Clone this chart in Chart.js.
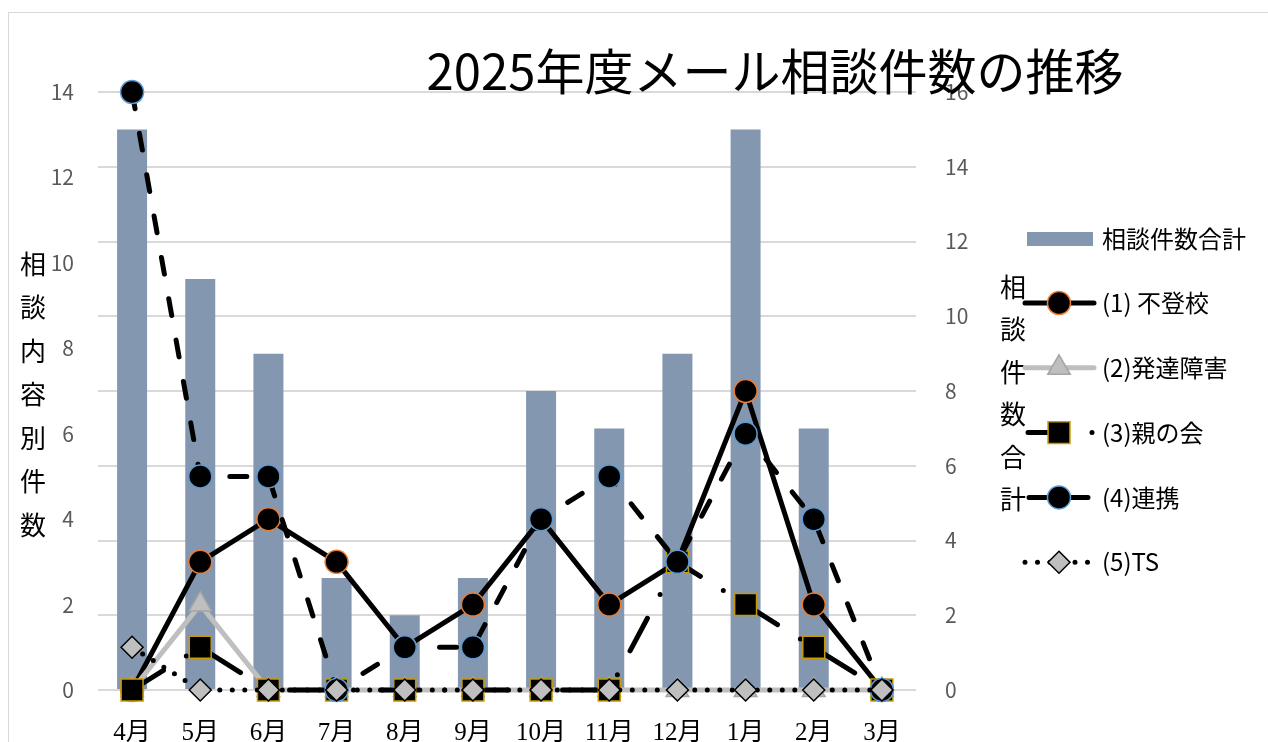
<!DOCTYPE html>
<html lang="ja">
<head>
<meta charset="utf-8">
<title>2025年度メール相談件数の推移</title>
<script src="https://cdn.jsdelivr.net/npm/chart.js@4.4.1/dist/chart.umd.min.js"></script>
<style>
  html, body { margin: 0; padding: 0; background: #fff; }
  #wrap { position: relative; width: 1268px; height: 742px; overflow: hidden; }
  #frame { position: absolute; left: 8px; top: 12px; width: 1300px; height: 800px; border: 1px solid #d9d9d9; }
  canvas { position: absolute; left: 0; top: 0; }
</style>
</head>
<body>
<div id="wrap">
  <div id="frame"></div>
  <canvas id="chart" width="1268" height="742"></canvas>
</div>
<script>
// data
const months = ['4月', '5月', '6月', '7月', '8月', '9月', '10月', '11月', '12月', '1月', '2月', '3月'];
const totalCounts = [15, 11, 9, 3, 2, 3, 8, 7, 9, 15, 7, 0];
const futoukou = [0, 3, 4, 3, 1, 2, 4, 2, 3, 7, 2, 0];
const hattatsu = [0, 2, 0, 0, 0, 0, 0, 0, 0, 0, 0, 0];
const oyanokai = [0, 1, 0, 0, 0, 0, 0, 0, 3, 2, 1, 0];
const renkei = [14, 5, 5, 0, 1, 1, 4, 5, 3, 6, 4, 0];
const ts = [1, 0, 0, 0, 0, 0, 0, 0, 0, 0, 0, 0];

const leftTitle = '相談内容別件数';
const rightTitle = '相談件数合計';
const chartTitle = '2025年度メール相談件数の推移';

const JP = "'Noto Sans CJK JP', 'Noto Sans', sans-serif";
const SERIF = "'Liberation Serif', 'DejaVu Serif', 'Noto Sans CJK JP', serif";

const lineSeries = [
    { label: '(1) 不登校', data: futoukou, color: '#000', width: 5, dash: [], style: 'circle', r: 11.5, fill: '#000', border: '#ed7d31' },
    { label: '(2)発達障害', data: hattatsu, color: '#bfbfbf', width: 5, dash: [], style: 'triangle', r: 13, fill: '#bfbfbf', border: '#a5a5a5' },
    { label: '(3)親の会', data: oyanokai, color: '#000', width: 5, dash: [37, 27, 0, 27], style: 'rect', r: 15.5, fill: '#000', border: '#c99a00' },
    { label: '(4)連携', data: renkei, color: '#000', width: 5, dash: [17, 25], style: 'circle', r: 11.5, fill: '#000', border: '#5b9bd5' },
    { label: '(5)TS', data: ts, color: '#000', width: 5, dash: [0, 12.5], style: 'rectRot', r: 11, fill: '#bfbfbf', border: '#000' }
];

const datasets = [{
    type: 'bar',
    label: '相談件数合計',
    data: totalCounts,
    yAxisID: 'y2',
    backgroundColor: '#8497b0',
    barPercentage: 0.44,
    categoryPercentage: 1,
    order: 10
}];
lineSeries.forEach((s, i) => {
    datasets.push({
        type: 'line',
        label: s.label,
        data: s.data,
        yAxisID: 'y',
        clip: false,
        borderColor: s.color,
        borderWidth: s.width,
        borderDash: s.dash,
        borderCapStyle: 'round',
        borderJoinStyle: 'round',
        tension: 0,
        pointStyle: s.style,
        pointRadius: s.r,
        pointHoverRadius: s.r,
        pointBackgroundColor: s.fill,
        pointBorderColor: s.border,
        pointBorderWidth: 1.5,
        order: 5 - i
    });
});

function marker(ctx, s, x, y) {
    ctx.save();
    ctx.setLineDash([]);
    ctx.fillStyle = s.fill;
    ctx.strokeStyle = s.border;
    ctx.lineWidth = 1.5;
    ctx.beginPath();
    const r = s.r;
    if (s.style === 'circle') {
        ctx.arc(x, y, r, 0, Math.PI * 2);
    } else if (s.style === 'triangle') {
        ctx.moveTo(x, y - r);
        ctx.lineTo(x + r * 0.866, y + r * 0.5);
        ctx.lineTo(x - r * 0.866, y + r * 0.5);
        ctx.closePath();
    } else if (s.style === 'rect') {
        const h = r * Math.SQRT1_2;
        ctx.rect(x - h, y - h, h * 2, h * 2);
    } else {
        ctx.moveTo(x, y - r); ctx.lineTo(x + r, y); ctx.lineTo(x, y + r); ctx.lineTo(x - r, y);
        ctx.closePath();
    }
    ctx.fill();
    ctx.stroke();
    ctx.restore();
}

// title, axis titles and Excel-like legend
const decor = {
    id: 'decor',
    afterDraw(chart) {
        const ctx = chart.ctx;
        ctx.save();
        ctx.fillStyle = '#000';
        ctx.textAlign = 'center';
        ctx.textBaseline = 'alphabetic';
        ctx.font = '49px ' + JP;
        ctx.fillText(chartTitle, 775, 90);

        ctx.font = '26px ' + JP;
        ctx.textBaseline = 'middle';
        [...leftTitle].forEach((c, i) => ctx.fillText(c, 33, 264 + i * 43.5));
        [...rightTitle].forEach((c, i) => ctx.fillText(c, 1013, 287 + i * 42.5));

        // legend
        ctx.textAlign = 'left';
        ctx.font = '24px ' + JP;
        ctx.fillStyle = '#8497b0';
        ctx.fillRect(1027, 232, 66, 14);
        ctx.fillStyle = '#000';
        ctx.fillText(datasets[0].label, 1102, 239);
        lineSeries.forEach((s, i) => {
            const y = 303 + i * 64.8;
            ctx.save();
            ctx.strokeStyle = s.color;
            ctx.lineWidth = s.width;
            ctx.lineCap = 'round';
            ctx.setLineDash(s.dash);
            ctx.lineDashOffset = i === 3 ? -4 : (i === 2 ? -3 : 0);
            ctx.beginPath();
            ctx.moveTo(1025, y);
            ctx.lineTo(1094, y);
            ctx.stroke();
            ctx.restore();
            marker(ctx, s, 1059, y);
            ctx.fillStyle = '#000';
            ctx.fillText(s.label, 1102, y);
        });
        ctx.restore();
    }
};

new Chart(document.getElementById('chart'), {
    data: { labels: months, datasets },
    options: {
        responsive: false,
        animation: false,
        layout: { padding: { top: 92, left: 0, right: 0, bottom: 0 } },
        plugins: { legend: { display: false }, tooltip: { enabled: false } },
        scales: {
            x: {
                grid: { display: false },
                border: { display: false },
                ticks: { color: '#000', font: { family: SERIF, size: 25 }, padding: 20, maxRotation: 0 },
                afterFit: (s) => { s.height = 52; }
            },
            y: {
                position: 'left',
                min: 0, max: 14,
                grid: { display: false, drawTicks: false },
                border: { display: false },
                ticks: { stepSize: 2, color: '#595959', font: { family: JP, size: 21 }, padding: 24 },
                afterFit: (s) => { s.width = 98; }
            },
            y2: {
                position: 'right',
                min: 0, max: 16,
                grid: { color: '#d9d9d9', lineWidth: 2, drawTicks: false },
                border: { display: false },
                ticks: { stepSize: 2, color: '#595959', font: { family: JP, size: 21 }, padding: 29 },
                afterFit: (s) => { s.width = 352; }
            }
        }
    },
    plugins: [decor]
});
</script>
</body>
</html>
